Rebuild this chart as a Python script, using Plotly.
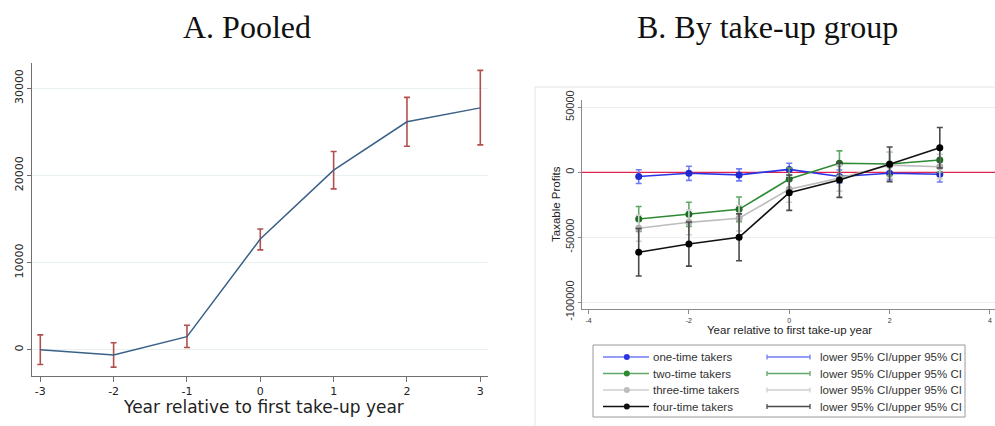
import plotly.graph_objects as go

W, H = 995, 426

# ---------------- Panel A: pooled ----------------
years = [-3, -2, -1, 0, 1, 2, 3]
pooled = [0, -600, 1500, 12700, 20600, 26150, 27750]
pooled_hi = [1700, 800, 2800, 13850, 22750, 28950, 32050]
pooled_lo = [-1700, -2000, 250, 11450, 18450, 23350, 23500]
a_xticks = [-3, -2, -1, 0, 1, 2, 3]
a_xtext = ["-3", "-2", "-1", "0", "1", "2", "3"]
a_yticks = [0, 10000, 20000, 30000]
a_ytext = ["0", "10000", "20000", "30000"]

# ---------------- Panel B: by take-up group ----------------
groups = ["one-time takers", "two-time takers", "three-time takers", "four-time takers"]
one_time = [-3300, -800, -2000, 2200, -3300, -800, -1500]
one_ci = [5300, 5400, 4600, 4700, 5000, 5100, 6000]
two_time = [-35900, -32300, -28500, -5200, 6900, 6400, 9500]
two_ci = [9600, 9300, 9500, 8500, 9600, 9000, 9200]
three_time = [-43100, -38500, -35400, -13000, -4500, 5500, 4300]
three_ci = [10000, 9500, 9800, 10000, 10000, 10000, 9500]
four_time = [-61500, -55200, -50000, -15700, -5900, 6100, 18900]
four_ci = [18300, 17000, 18000, 13600, 13400, 13400, 15600]
b_xticks = [-4, -2, 0, 2, 4]
b_xtext = ["-4", "-2", "0", "2", "4"]
b_yticks = [-100000, -50000, 0, 50000]
b_ytext = ["-100000", "-50000", "0", "50000"]
ci_label = "lower 95% CI/upper 95% CI"

line_cols = ["#2b35e6", "#2e8b34", "#bdbdbd", "#111111"]
mark_cols = ["#1f2ad0", "#1d6b23", "#b0b0b0", "#000000"]
ci_cols = ["#6f7df5", "#62a867", "#cfcfcf", "#4a4a4a"]


def px_x(p):
    return p / W


def px_y(p):
    return 1 - p / H


fig = go.Figure()

# Panel A trace
fig.add_trace(go.Scatter(
    x=years, y=pooled, mode="lines",
    line=dict(color="#3a6088", width=1.5),
    error_y=dict(type="data", symmetric=False,
                 array=[h - v for h, v in zip(pooled_hi, pooled)],
                 arrayminus=[v - l for v, l in zip(pooled, pooled_lo)],
                 color="#b3504f", thickness=1.6, width=3),
    xaxis="x", yaxis="y", showlegend=False, hoverinfo="skip"))

# Panel B zero line (behind)
fig.add_trace(go.Scatter(
    x=[-4.2, 4.2], y=[0, 0], mode="lines",
    line=dict(color="#e0244f", width=1.3),
    xaxis="x2", yaxis="y2", showlegend=False, hoverinfo="skip"))

series = [one_time, two_time, three_time, four_time]
cis = [one_ci, two_ci, three_ci, four_ci]
for i, (vals, ci) in enumerate(zip(series, cis)):
    fig.add_trace(go.Scatter(
        x=years, y=vals, mode="lines+markers", name=groups[i],
        line=dict(color=line_cols[i], width=1.6),
        marker=dict(color=mark_cols[i], size=7),
        error_y=dict(type="data", array=ci, color=ci_cols[i], thickness=1.6, width=3),
        xaxis="x2", yaxis="y2", showlegend=False, hoverinfo="skip"))

axis_common = dict(showline=True, linewidth=1.2, mirror=False, zeroline=False,
                   ticks="outside", automargin=False)

layout = dict(
    template="none",
    width=W, height=H, autosize=False,
    margin=dict(l=0, r=0, t=0, b=0, pad=0, autoexpand=False),
    paper_bgcolor="white", plot_bgcolor="white",
    showlegend=False,
    xaxis=dict(domain=[px_x(32), px_x(488)], range=[-3.113, 3.105],
               tickvals=a_xticks, ticktext=a_xtext, linecolor="#707070",
               tickcolor="#707070", ticklen=5, tickwidth=1.2, showgrid=False,
               tickfont=dict(family="DejaVu Sans", size=11, color="#222"),
               anchor="y", **axis_common),
    yaxis=dict(domain=[1 - 376 / H, 1 - 63 / H], range=[-3020, 32900],
               tickvals=a_yticks, ticktext=a_ytext, tickangle=-90, linecolor="#707070",
               tickcolor="#707070", ticklen=4, tickwidth=1.2,
               tickfont=dict(family="DejaVu Sans", size=11, color="#222"),
               anchor="x", showgrid=True, gridcolor="#e9f1f3", gridwidth=1,
               **axis_common),
    xaxis2=dict(domain=[px_x(582), 1.0], range=[-4.13, 4.1],
                tickvals=b_xticks, ticktext=b_xtext, linecolor="#8a8a8a",
                tickcolor="#8a8a8a", ticklen=4, tickwidth=1, showgrid=False,
                tickfont=dict(family="Liberation Sans", size=7, color="#333"),
                anchor="y2", **axis_common),
    yaxis2=dict(domain=[1 - 309.3 / H, 1 - 100 / H], range=[-105400, 55600],
                tickvals=b_yticks, ticktext=b_ytext, tickangle=-90,
                linecolor="#8a8a8a", tickcolor="#8a8a8a", ticklen=3, tickwidth=1,
                tickfont=dict(family="Liberation Sans", size=11, color="#333"),
                anchor="x2", showgrid=True, gridcolor="#eeeeee", gridwidth=1,
                **axis_common),
)
fig.update_layout(**layout)

shapes = []
annotations = []

# Panel B outer frame
shapes.append(dict(type="rect", xref="paper", yref="paper", layer="below",
                   x0=px_x(535), x1=1.02, y0=-0.02, y1=px_y(87),
                   line=dict(color="#e4e4e4", width=1)))

# Titles
annotations.append(dict(text="A. Pooled", x=px_x(247), y=px_y(27), xref="paper", yref="paper",
                        showarrow=False, xanchor="center", yanchor="middle",
                        font=dict(family="Liberation Serif", size=32, color="#111")))
annotations.append(dict(text="B. By take-up group", x=px_x(767), y=px_y(27), xref="paper", yref="paper",
                        showarrow=False, xanchor="center", yanchor="middle",
                        font=dict(family="Liberation Serif", size=32, color="#111")))

# Axis titles
annotations.append(dict(text="Year relative to first take-up year", x=px_x(263), y=px_y(407),
                        xref="paper", yref="paper", showarrow=False, xanchor="center", yanchor="middle",
                        font=dict(family="DejaVu Sans", size=17, color="#222")))
annotations.append(dict(text="Year relative to first take-up year", x=px_x(789), y=px_y(330),
                        xref="paper", yref="paper", showarrow=False, xanchor="center", yanchor="middle",
                        font=dict(family="Liberation Sans", size=11.5, color="#222")))
annotations.append(dict(text="Taxable Profits", x=px_x(556), y=px_y(204), textangle=-90,
                        xref="paper", yref="paper", showarrow=False, xanchor="center", yanchor="middle",
                        font=dict(family="Liberation Sans", size=11.5, color="#222")))

# Legend (manual, two columns)
shapes.append(dict(type="rect", xref="paper", yref="paper",
                   x0=px_x(593), x1=px_x(965), y0=px_y(417), y1=px_y(345),
                   line=dict(color="#9a9a9a", width=1), fillcolor="white"))
row_y = [357, 373.5, 390, 406.5]
for i, g in enumerate(groups):
    yy = px_y(row_y[i])
    shapes.append(dict(type="line", xref="paper", yref="paper",
                       x0=px_x(603), x1=px_x(649), y0=yy, y1=yy,
                       line=dict(color=ci_cols[i] if i < 3 else line_cols[i], width=1.5)))
    shapes.append(dict(type="circle", xref="paper", yref="paper",
                       x0=px_x(623.8), x1=px_x(629.8), y0=px_y(row_y[i] + 3), y1=px_y(row_y[i] - 3),
                       line=dict(color=mark_cols[i], width=0), fillcolor=line_cols[i]))
    annotations.append(dict(text=g, x=px_x(651), y=yy, xref="paper", yref="paper",
                            showarrow=False, xanchor="left", yanchor="middle",
                            font=dict(family="Liberation Sans", size=11.5, color="#333")))
    shapes.append(dict(type="line", xref="paper", yref="paper",
                       x0=px_x(767), x1=px_x(810), y0=yy, y1=yy,
                       line=dict(color=ci_cols[i], width=1.5)))
    for xe in (767, 810):
        shapes.append(dict(type="line", xref="paper", yref="paper",
                           x0=px_x(xe), x1=px_x(xe), y0=px_y(row_y[i] - 2.5), y1=px_y(row_y[i] + 2.5),
                           line=dict(color=ci_cols[i], width=1.3)))
    annotations.append(dict(text=ci_label, x=px_x(818), y=yy, xref="paper", yref="paper",
                            showarrow=False, xanchor="left", yanchor="middle",
                            font=dict(family="Liberation Sans", size=11.5, color="#333")))

fig.update_layout(shapes=shapes, annotations=annotations)

fig.write_html("out.html", config=dict(displayModeBar=False),
               post_script="document.body.style.margin='0px';document.body.style.overflow='hidden';")
